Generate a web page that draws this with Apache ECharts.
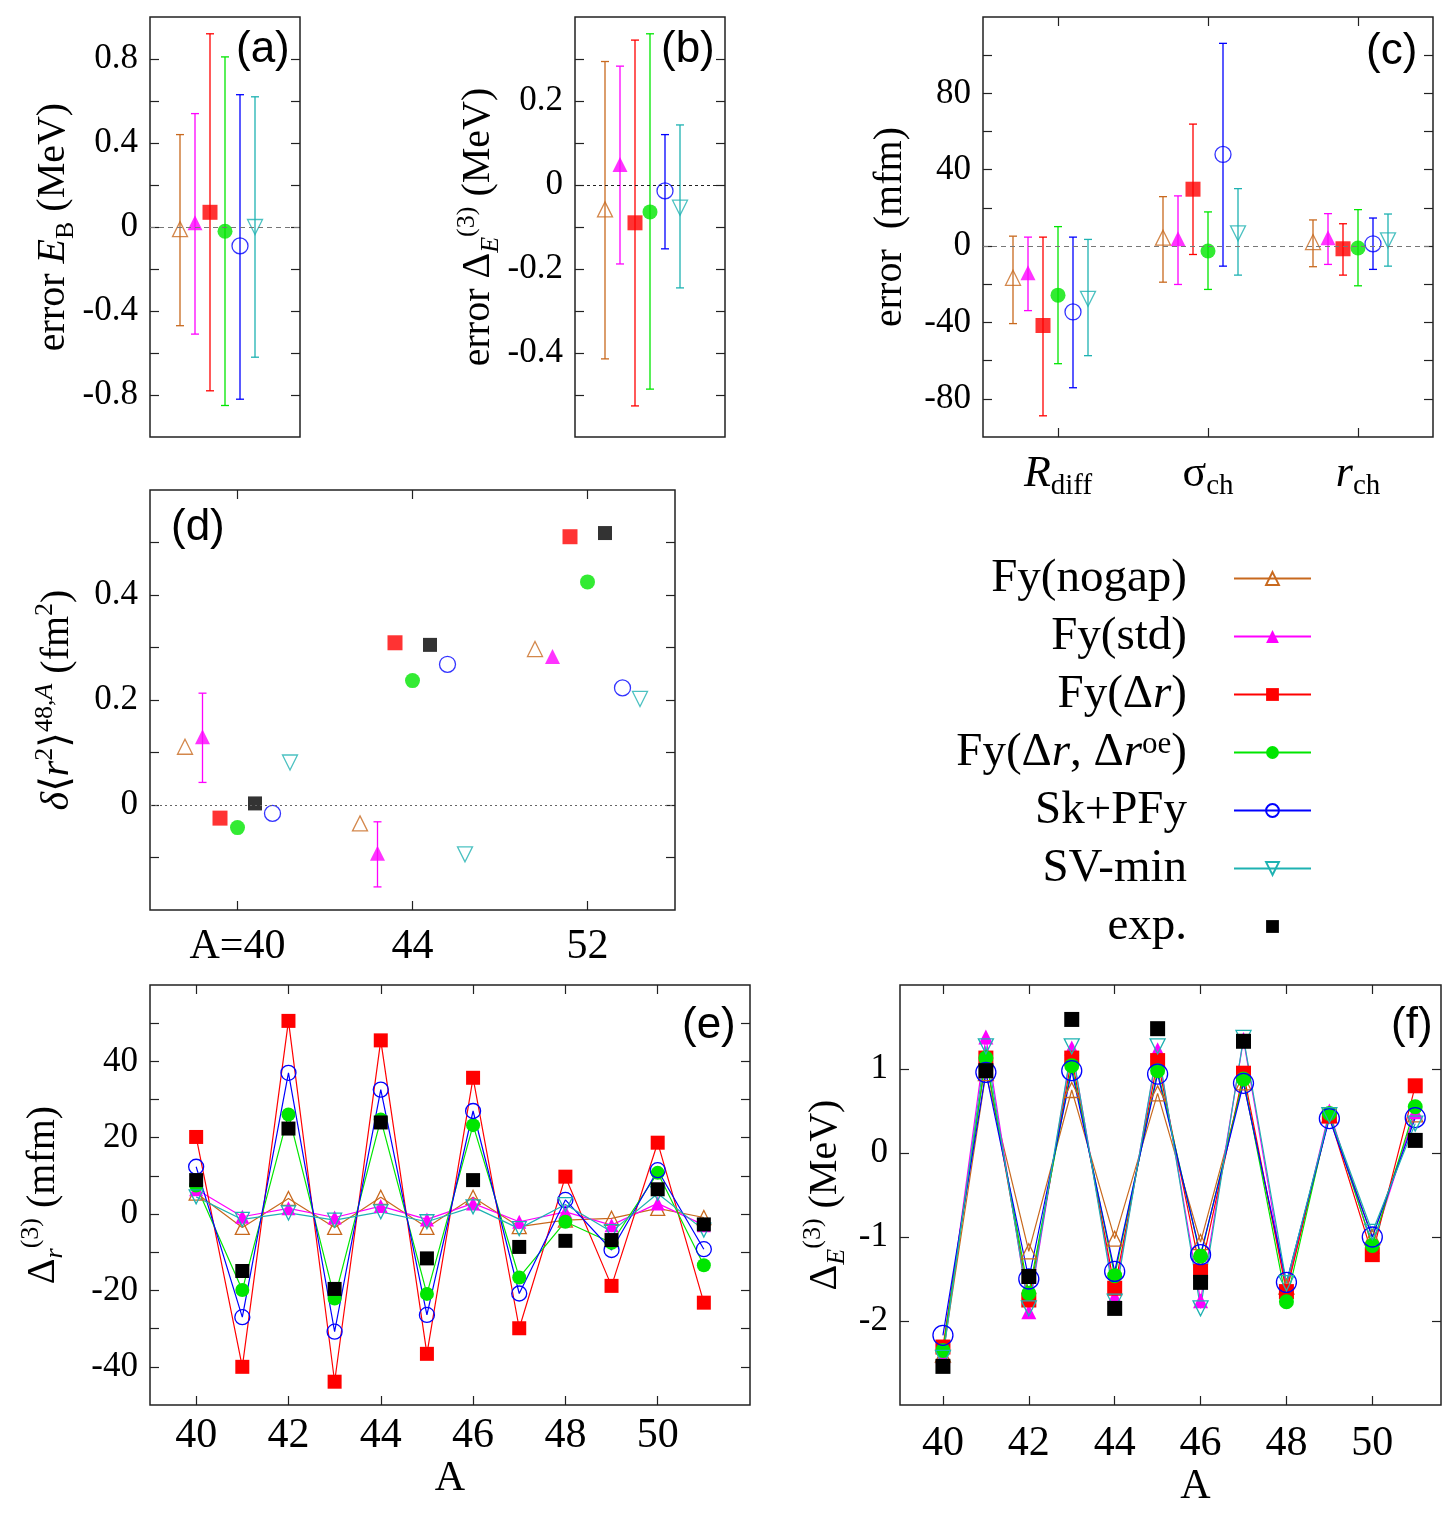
<!DOCTYPE html>
<html>
<head>
<meta charset="utf-8">
<title>Fayans EDF errors and staggering</title>
<style>
  html, body { margin: 0; padding: 0; background: #fff; }
  #chart { width: 1456px; height: 1516px; }
</style>
</head>
<body>
<div id="chart"></div>
<script src="https://cdn.jsdelivr.net/npm/echarts@6/dist/echarts.min.js"></script>
<script>
// ---- data ----
const models = ['Fy(nogap)', 'Fy(std)', 'Fy(Δr)', 'Fy(Δr, Δroe)', 'Sk+PFy', 'SV-min'];
const expName = 'exp.';

// (a) error of binding energy (MeV)
const ebVal = [-0.01, 0.02, 0.07, -0.02, -0.09, 0.00];
const ebLo = [-0.47, -0.51, -0.78, -0.85, -0.82, -0.62];
const ebHi = [0.44, 0.54, 0.92, 0.81, 0.63, 0.62];

// (b) error of Delta_E^(3) (MeV)
const d3Val = [-0.058, 0.049, -0.090, -0.064, -0.014, -0.054];
const d3Lo = [-0.414, -0.188, -0.526, -0.486, -0.152, -0.245];
const d3Hi = [0.294, 0.283, 0.345, 0.360, 0.120, 0.143];

// (c) errors (mfm) for R_diff, sigma_ch, r_ch
const rdiffVal = [-16.6, -14.0, -41.6, -25.7, -34.5, -27.6];
const rdiffLo = [-40.6, -33.8, -88.9, -61.6, -74.2, -57.4];
const rdiffHi = [5.2, 4.7, 4.7, 10.2, 4.7, 3.5];
const sigmaVal = [4.4, 3.9, 29.8, -2.6, 48.0, 6.7];
const sigmaLo = [-18.9, -20.1, -4.4, -22.7, -10.5, -15.2];
const sigmaHi = [25.9, 26.3, 63.9, 17.9, 106.2, 30.1];
const rchVal = [2.1, 4.4, -1.4, -1.0, 1.2, 3.0];
const rchLo = [-10.8, -9.6, -15.2, -20.8, -12.2, -10.5];
const rchHi = [13.7, 17.0, 11.7, 19.1, 14.7, 16.8];
const quantityLabels = ['{it|R}{sub|diff}', '{t|σ}{sub|ch}', '{it|r}{sub|ch}'];

// (d) delta <r^2>^{48,A} (fm^2) at A = 40, 44, 52
const isotopeLabels = ['A=40', '44', '52'];
const dr2Nogap = [0.111, -0.035, 0.297];
const dr2Std = [0.130, -0.092, 0.283];
const dr2Dr = [-0.025, 0.309, 0.511];
const dr2DrOe = [-0.043, 0.237, 0.425];
const dr2Sk = [-0.016, 0.268, 0.223];
const dr2Sv = [0.081, -0.094, 0.202];
const dr2Exp = [0.003, 0.305, 0.518];
const dr2StdLo = [0.043, -0.156];
const dr2StdHi = [0.213, -0.032];

// (e) Delta_r^(3) (mfm) and (f) Delta_E^(3) (MeV) versus A
const massNumbers = [40, 41, 42, 43, 44, 45, 46, 47, 48, 49, 50, 51];
const r3Nogap = [5.5, -3.5, 4.1, -3.5, 4.4, -3.5, 4.4, -3.3, -1.6, -1.1, 1.5, -0.9];
const r3Std = [6.5, -0.7, 1.5, -0.9, 2.1, -1.4, 2.8, -2.0, 0.6, -2.9, 2.8, -2.9];
const r3Dr = [20.2, -40.0, 50.6, -43.9, 45.5, -36.6, 35.7, -29.9, 9.8, -18.8, 18.7, -23.2];
const r3DrOe = [7.5, -19.9, 26.1, -22.1, 24.8, -20.9, 23.3, -16.6, -2.0, -7.5, 10.8, -13.4];
const r3Sk = [12.4, -27.0, 37.0, -30.8, 32.6, -26.4, 27.0, -20.8, 3.7, -9.4, 11.5, -9.2];
const r3Sv = [4.5, -1.4, 0.3, -1.6, 0.6, -2.0, 1.9, -3.8, 2.5, -4.6, 5.4, -4.2];
const r3Exp = [8.9, -14.9, 22.4, -19.6, 24.0, -11.6, 8.9, -8.6, -7.0, -6.8, 6.5, -2.7];

const e3Nogap = [-2.40, 0.95, -1.17, 0.75, -1.02, 0.71, -1.06, 0.84, -1.59, 0.45, -1.00, 0.46];
const e3Std = [-2.42, 1.38, -1.89, 1.25, -1.71, 1.23, -1.76, 1.35, -1.65, 0.50, -1.11, 0.49];
const e3Dr = [-2.31, 1.13, -1.75, 1.13, -1.61, 1.10, -1.41, 0.95, -1.65, 0.44, -1.21, 0.80];
const e3DrOe = [-2.35, 1.13, -1.67, 1.04, -1.46, 0.98, -1.23, 0.88, -1.77, 0.47, -1.10, 0.55];
const e3Sk = [-2.17, 0.96, -1.50, 0.98, -1.41, 0.94, -1.21, 0.83, -1.54, 0.41, -1.00, 0.42];
const e3Sv = [-2.44, 1.27, -1.85, 1.27, -1.77, 1.27, -1.85, 1.37, -1.55, 0.45, -0.94, 0.35];
const e3Exp = [-2.54, 0.98, -1.47, 1.59, -1.85, 1.48, -1.54, 1.33, null, null, null, 0.15];

// axis ticks / labels
const ticksA = [-0.8, -0.6, -0.4, -0.2, 0, 0.2, 0.4, 0.6, 0.8];
const labelsA = [-0.8, -0.4, 0, 0.4, 0.8];
const ticksB = [-0.5, -0.4, -0.3, -0.2, -0.1, 0, 0.1, 0.2, 0.3];
const labelsB = [-0.4, -0.2, 0, 0.2];
const ticksC = [-80, -60, -40, -20, 0, 20, 40, 60, 80, 100];
const labelsC = [-80, -40, 0, 40, 80];
const ticksD = [-0.1, 0, 0.1, 0.2, 0.3, 0.4, 0.5];
const labelsD = [0, 0.2, 0.4];
const ticksE = [-40, -30, -20, -10, 0, 10, 20, 30, 40, 50];
const labelsE = [-40, -20, 0, 20, 40];
const ticksF = [-2, -1, 0, 1];
const ticksMass = [40, 42, 44, 46, 48, 50];

// ---- styling ----
const colors = ['#c8691e', '#ff00ff', '#ff0000', '#00e600', '#0000ff', '#1eb2b2'];
const symbols = ['triangle', 'triangle', 'rect', 'circle', 'circle', 'triangle'];
const openMarker = [true, false, false, false, true, true];
const offsets6 = [-0.3, -0.2, -0.1, 0, 0.1, 0.2];
const offsetsD = [-0.3, -0.2, -0.1, 0, 0.2, 0.3];
const serif = "'Liberation Serif', 'DejaVu Serif', serif";
const sans = "'Liberation Sans', Arial, sans-serif";

function richSet(size) {
  const s = Math.round(size * 0.66);
  const base = { fontFamily: serif, color: '#000' };
  return {
    t: { ...base, fontSize: size, lineHeight: size + 10, verticalAlign: 'middle' },
    it: { ...base, fontSize: size, fontStyle: 'italic', lineHeight: size + 10, verticalAlign: 'middle' },
    sub: { ...base, fontSize: s, lineHeight: s, verticalAlign: 'bottom' },
    subI: { ...base, fontSize: s, fontStyle: 'italic', lineHeight: s, verticalAlign: 'bottom' },
    sup: { ...base, fontSize: s, lineHeight: s, verticalAlign: 'top' },
    supI: { ...base, fontSize: s, fontStyle: 'italic', lineHeight: s, verticalAlign: 'top' }
  };
}

function mark(i, size) {
  return {
    symbol: symbols[i],
    symbolSize: i === 4 ? size + 1 : size,
    symbolRotate: i === 5 ? 180 : 0,
    itemStyle: openMarker[i]
      ? { color: 'rgba(255,255,255,0)', borderColor: colors[i], borderWidth: 1.3 }
      : { color: colors[i], borderWidth: 0 }
  };
}

const grids = [
  { left: 150, top: 17, width: 150, height: 420 },
  { left: 575, top: 17, width: 150, height: 420 },
  { left: 983, top: 17, width: 450, height: 420 },
  { left: 150, top: 490, width: 525, height: 420 },
  { left: 150, top: 985, width: 600, height: 420 },
  { left: 900, top: 985, width: 541, height: 420 }
].map(g => ({ ...g, show: true, borderColor: '#222', borderWidth: 1.5, backgroundColor: 'transparent' }));

const tickStyle = { inside: true, length: 9, lineStyle: { color: '#222', width: 1.2 } };
const noLine = { show: false, onZero: false };

function yPair(g, min, max, ticks, labels, name, gap) {
  return [
    {
      gridIndex: g, type: 'value', min, max, position: 'left',
      axisLine: noLine, splitLine: { show: false },
      axisTick: { ...tickStyle, customValues: ticks },
      axisLabel: { customValues: labels, fontFamily: serif, fontSize: 35, color: '#000', margin: 12 },
      name, nameLocation: 'middle', nameGap: gap, nameRotate: 90,
      nameTextStyle: { fontFamily: serif, fontSize: 40, color: '#000', rich: richSet(40) }
    },
    {
      gridIndex: g, type: 'value', min, max, position: 'right',
      axisLine: noLine, splitLine: { show: false },
      axisTick: { ...tickStyle, customValues: ticks },
      axisLabel: { show: false }
    }
  ];
}

function xPair(g, min, max, ticks, labelCfg, name, gap, namePad) {
  const bottom = {
    gridIndex: g, type: 'value', min, max, position: 'bottom',
    axisLine: noLine, splitLine: { show: false },
    axisTick: ticks ? { ...tickStyle, customValues: ticks } : { show: false },
    axisLabel: labelCfg || { show: false }
  };
  if (name) {
    bottom.name = name;
    bottom.nameLocation = 'middle';
    bottom.nameGap = gap;
    bottom.nameTextStyle = { fontFamily: serif, fontSize: 42, color: '#000', padding: namePad || 0 };
  }
  return [bottom, {
    gridIndex: g, type: 'value', min, max, position: 'top',
    axisLine: noLine, splitLine: { show: false },
    axisTick: ticks ? { ...tickStyle, customValues: ticks } : { show: false },
    axisLabel: { show: false }
  }];
}

const xAxes = [
  ...xPair(0, -0.5, 0.5, null, null),
  ...xPair(1, -0.5, 0.5, null, null),
  ...xPair(2, -0.5, 2.5, [0, 1, 2], {
    customValues: [0, 1, 2], margin: 10, formatter: v => quantityLabels[Math.round(v)],
    rich: richSet(44)
  }),
  ...xPair(3, -0.5, 2.5, [0, 1, 2], {
    customValues: [0, 1, 2], margin: 16, formatter: v => isotopeLabels[Math.round(v)],
    fontFamily: serif, fontSize: 42, color: '#000'
  }),
  ...xPair(4, 39, 52, ticksMass, {
    customValues: ticksMass, margin: 10, fontFamily: serif, fontSize: 42, color: '#000'
  }, 'A', 46),
  ...xPair(5, 39, 51.6, ticksMass, {
    customValues: ticksMass, margin: 18, fontFamily: serif, fontSize: 42, color: '#000'
  }, 'A', 58, [0, 0, 0, 50])
];

const yAxes = [
  ...yPair(0, -1, 1, ticksA, labelsA, '{t|error }{it|E}{sub|B}{t| (MeV)}', 68),
  ...yPair(1, -0.6, 0.4, ticksB, labelsB, '{t|error Δ}{subI|E}{sup|(3)}{t| (MeV)}', 62),
  ...yPair(2, -100, 120, ticksC, labelsC, '{t|error  (mfm)}', 68),
  ...yPair(3, -0.2, 0.6, ticksD, labelsD, '{it|δ}{t|⟨}{it|r}{sup|2}{t|⟩}{sup|48,}{supI|A}{t| (fm}{sup|2}{t|)}', 68),
  ...yPair(4, -50, 60, ticksE, labelsE, '{t|Δ}{subI|r}{sup|(3)}{t| (mfm)}', 82),
  ...yPair(5, -3, 2, ticksF, ticksF, '{t|Δ}{subI|E}{sup|(3)}{t| (MeV)}', 50)
];

function zeroLine(type, color) {
  return {
    silent: true, symbol: 'none', label: { show: false },
    lineStyle: { type, color, width: 1.1 },
    data: [{ yAxis: 0 }]
  };
}

function errorBars(g, rows) {
  return {
    type: 'custom', name: 'err' + g, xAxisIndex: 2 * g, yAxisIndex: 2 * g, z: 1, silent: true,
    encode: { x: 0, y: [1, 2] },
    data: rows,
    renderItem(params, api) {
      const x = api.value(0);
      const c = colors[api.value(3)];
      const p1 = api.coord([x, api.value(1)]);
      const p2 = api.coord([x, api.value(2)]);
      const st = { stroke: c, lineWidth: 1.3 };
      const cap = 4;
      return {
        type: 'group', children: [
          { type: 'line', shape: { x1: p1[0], y1: p1[1], x2: p2[0], y2: p2[1] }, style: st },
          { type: 'line', shape: { x1: p1[0] - cap, y1: p1[1], x2: p1[0] + cap, y2: p1[1] }, style: st },
          { type: 'line', shape: { x1: p2[0] - cap, y1: p2[1], x2: p2[0] + cap, y2: p2[1] }, style: st }
        ]
      };
    }
  };
}

const series = [];

// (e) and (f) first so the legend takes its icons from the line series
const r3Sets = [r3Nogap, r3Std, r3Dr, r3DrOe, r3Sk, r3Sv];
const e3Sets = [e3Nogap, e3Std, e3Dr, e3DrOe, e3Sk, e3Sv];
[[4, r3Sets, r3Exp, 14], [5, e3Sets, e3Exp, 15]].forEach(([g, sets, expVals, size]) => {
  sets.forEach((vals, i) => {
    const m = mark(i, size);
    if (g === 5 && i === 4) m.symbolSize = 20;
    series.push({
      name: models[i], type: 'line', xAxisIndex: 2 * g, yAxisIndex: 2 * g, z: 3,
      data: massNumbers.map((a, k) => [a, vals[k]]),
      ...m, showSymbol: true,
      lineStyle: { color: colors[i], width: 1.2 },
      emphasis: { disabled: true }
    });
  });
  // experimental points: markers only (line kept invisible so the legend shows a small square)
  series.push({
    name: expName, type: 'line', xAxisIndex: 2 * g, yAxisIndex: 2 * g, z: 4,
    data: massNumbers.map((a, k) => [a, expVals[k]]).filter(p => p[1] !== null),
    symbol: 'rect', symbolSize: size, showSymbol: true, itemStyle: { color: '#000' },
    lineStyle: { width: 0, opacity: 0 }, emphasis: { disabled: true }
  });
});

// (a), (b): one point per model with error bar
[[0, ebVal, ebLo, ebHi, zeroLine([5, 4], '#777')], [1, d3Val, d3Lo, d3Hi, zeroLine([3, 3], '#222')]]
  .forEach(([g, vals, lo, hi, zl]) => {
    series.push(errorBars(g, offsets6.map((x, i) => [x, lo[i], hi[i], i])));
    vals.forEach((v, i) => {
      series.push({
        name: models[i], type: 'scatter', xAxisIndex: 2 * g, yAxisIndex: 2 * g, z: 2,
        data: [[offsets6[i], v]], ...mark(i, 15),
        markLine: i === 0 ? zl : undefined
      });
    });
  });

// (c): three quantities
const cVal = [rdiffVal, sigmaVal, rchVal];
const cLo = [rdiffLo, sigmaLo, rchLo];
const cHi = [rdiffHi, sigmaHi, rchHi];
const cErr = [];
cVal.forEach((vals, q) => vals.forEach((v, i) => cErr.push([q + offsets6[i], cLo[q][i], cHi[q][i], i])));
series.push(errorBars(2, cErr));
models.forEach((name, i) => {
  series.push({
    name, type: 'scatter', xAxisIndex: 4, yAxisIndex: 4, z: 2,
    data: cVal.map((vals, q) => [q + offsets6[i], vals[i]]), ...mark(i, 15),
    markLine: i === 0 ? zeroLine([5, 4], '#777') : undefined
  });
});

// (d): charge radius differences
const dSets = [dr2Nogap, dr2Std, dr2Dr, dr2DrOe, dr2Sk, dr2Sv];
series.push(errorBars(3, dr2StdLo.map((lo, k) => [k + offsetsD[1], lo, dr2StdHi[k], 1])));
dSets.forEach((vals, i) => {
  series.push({
    name: models[i], type: 'scatter', xAxisIndex: 6, yAxisIndex: 6, z: 2,
    data: vals.map((v, k) => [k + offsetsD[i], v]), ...mark(i, 15),
    markLine: i === 0 ? zeroLine([2, 3], '#666') : undefined
  });
});
series.push({
  name: expName, type: 'scatter', xAxisIndex: 6, yAxisIndex: 6, z: 2,
  data: dr2Exp.map((v, k) => [k + 0.1, v]), symbol: 'rect', symbolSize: 14, itemStyle: { color: '#000' }
});

const legendText = {
  'Fy(nogap)': '{t|Fy(nogap)}',
  'Fy(std)': '{t|Fy(std)}',
  'Fy(Δr)': '{t|Fy(Δ}{it|r}{t|)}',
  'Fy(Δr, Δroe)': '{t|Fy(Δ}{it|r}{t|, Δ}{it|r}{sup|oe}{t|)}',
  'Sk+PFy': '{t|Sk+PFy}',
  'SV-min': '{t|SV-min}',
  'exp.': '{t|exp.}'
};

const legendRich = richSet(47);
legendRich.t.lineHeight = 46;
legendRich.it.lineHeight = 46;
legendRich.sup.lineHeight = 26;

const tags = ['(a)', '(b)', '(c)', '(d)', '(e)', '(f)'];
const tagPos = [[236, 28], [661, 28], [1366, 30], [171, 506], [682, 1004], [1391, 1004]];

const chart = echarts.init(document.getElementById('chart'));
chart.setOption({
  animation: false,
  backgroundColor: '#fff',
  title: tags.map((t, k) => ({
    text: t, left: tagPos[k][0], top: tagPos[k][1], padding: 0,
    textStyle: { fontFamily: sans, fontSize: 44, fontWeight: 'normal', color: '#000' }
  })),
  grid: grids,
  xAxis: xAxes,
  yAxis: yAxes,
  legend: {
    data: [...models, expName],
    orient: 'vertical', align: 'right', right: 144, top: 555, padding: 0,
    itemWidth: 77, itemHeight: 16, itemGap: 11,
    selectedMode: false,
    formatter: n => legendText[n],
    textStyle: {
      fontFamily: serif, fontSize: 47, color: '#000', height: 46,
      padding: [0, 42, 0, 0], rich: legendRich
    }
  },
  series
});
</script>
</body>
</html>
